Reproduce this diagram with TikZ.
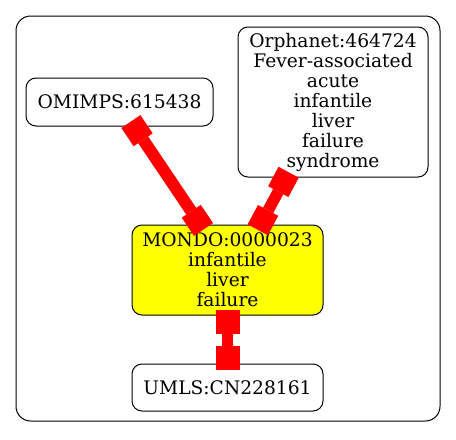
\documentclass[tikz,border=0pt]{standalone}
\usepackage{fontspec}
\setmainfont{DejaVu Serif}
\usepackage{tikz}
\usetikzlibrary{arrows.meta, positioning, calc}
\definecolor{mdyellow}{RGB}{255,255,0}
\definecolor{mdred}{RGB}{255,0,0}

\begin{document}
\begin{tikzpicture}[x=0.75pt, y=-0.75pt,
  term/.style={rectangle, draw=black, fill=white, line width=0.75pt, rounded corners=7.5pt, align=center, inner sep=0pt, font=\fontsize{14}{15}\selectfont},
  focus/.style={term, fill=mdyellow},
  grp/.style={rectangle, draw=black, line width=0.75pt, rounded corners=11pt, inner sep=0pt},
  xref/.style n args={3}{draw=mdred, line width=#1, arrows={Square[width=#2, length=#3, line width=0pt]-Square[width=#2, length=#3, line width=0pt]}, shorten <=-4.5pt, shorten >=-4.5pt}
]
\useasboundingbox (0,0) rectangle (456,439);
\node[grp, minimum width=318pt, minimum height=303.75pt] (clust) at (228,218.5) {};
\node[term, minimum width=140.25pt, minimum height=36pt] (omim) at (119.5,102) {OMIMPS:615438};
\node[term, minimum width=142.5pt, minimum height=112.5pt] (orpha) at (333,102) {Orphanet:464724\\Fever-associated\\acute\\infantile\\liver\\failure\\syndrome};
\node[focus, minimum width=143.25pt, minimum height=67.5pt] (mondo) at (227.5,270) {MONDO:0000023\\infantile\\liver\\failure};
\node[term, minimum width=143.25pt, minimum height=35.25pt] (umls) at (227.5,387.5) {UMLS:CN228161};
% xrefs
\draw[xref={9pt}{17.25pt}{16.5pt}] (omim.-59) -- (mondo.121);
\draw[xref={8.6pt}{17.25pt}{16.5pt}] (orpha.-122) -- (mondo.54);
\draw[xref={8.25pt}{18pt}{18pt}] (mondo.south) -- (umls.north);
\end{tikzpicture}
\end{document}
